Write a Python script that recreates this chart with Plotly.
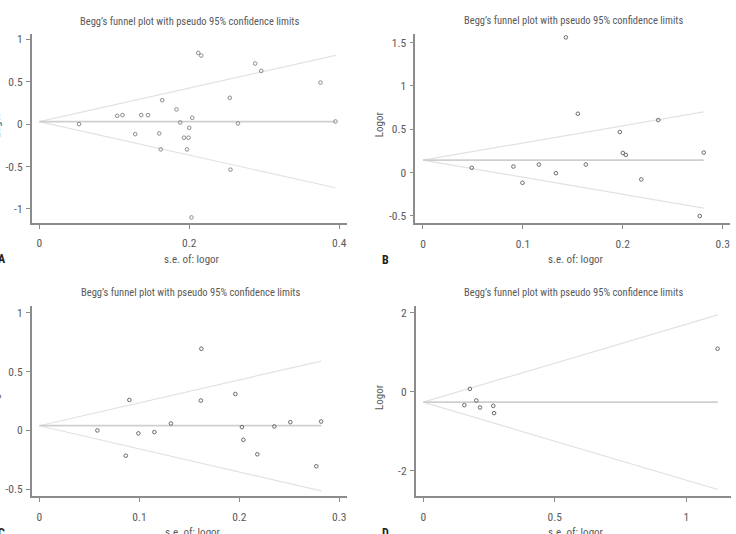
import plotly.graph_objects as go

W, H = 736, 534

# ---------------- data ----------------
a_se = [0.053, 0.104, 0.111, 0.128, 0.136, 0.145, 0.160, 0.162, 0.164, 0.183, 0.188,
        0.193, 0.197, 0.199, 0.200, 0.204, 0.203, 0.212, 0.216, 0.254, 0.255, 0.265,
        0.288, 0.296, 0.375, 0.395]
a_logor = [0.0, 0.098, 0.106, -0.118, 0.106, 0.106, -0.11, -0.298, 0.282, 0.173, 0.02,
           -0.16, -0.298, -0.16, -0.043, 0.075, -1.10, 0.839, 0.808, 0.31, -0.537, 0.008,
           0.714, 0.627, 0.49, 0.031]
a_lim_se = [0.0, 0.395]
a_center = [0.03, 0.03]
a_upper = [0.03, 0.81]
a_lower = [0.03, -0.75]

b_se = [0.0488, 0.0905, 0.0996, 0.116, 0.133, 0.143, 0.155, 0.163, 0.197, 0.200, 0.203,
        0.2185, 0.2355, 0.277, 0.281]
b_logor = [0.054, 0.069, -0.119, 0.092, -0.008, 1.559, 0.678, 0.092, 0.467, 0.226, 0.203,
           -0.080, 0.605, -0.502, 0.230]
b_lim_se = [0.0, 0.281]
b_center = [0.142, 0.142]
b_upper = [0.142, 0.70]
b_lower = [0.142, -0.41]

c_se = [0.058, 0.0864, 0.090, 0.099, 0.115, 0.1315, 0.1615, 0.162, 0.196, 0.2026, 0.204,
        0.218, 0.235, 0.251, 0.277, 0.2818]
c_logor = [0.0, -0.215, 0.259, -0.025, -0.014, 0.059, 0.254, 0.695, 0.31, 0.028, -0.08,
           -0.203, 0.034, 0.070, -0.305, 0.076]
c_lim_se = [0.0, 0.282]
c_center = [0.04, 0.04]
c_upper = [0.04, 0.59]
c_lower = [0.04, -0.514]

d_se = [0.156, 0.177, 0.2015, 0.2155, 0.266, 0.269, 1.119]
d_logor = [-0.336, 0.076, -0.218, -0.395, -0.353, -0.538, 1.092]
d_lim_se = [0.0, 1.12]
d_center = [-0.26, -0.26]
d_upper = [-0.26, 1.95]
d_lower = [-0.26, -2.47]

title_text = "Begg\u2019s funnel plot with pseudo 95% confidence limits"
xlabel = "s.e. of: logor"
ylabel = "Logor"
letters = ["A", "B", "C", "D"]

a_xticks = [0, 0.2, 0.4]
a_yticks = [-1, -0.5, 0, 0.5, 1]
b_xticks = [0, 0.1, 0.2, 0.3]
b_yticks = [-0.5, 0, 0.5, 1, 1.5]
c_xticks = [0, 0.1, 0.2, 0.3]
c_yticks = [-0.5, 0, 0.5, 1]
d_xticks = [0, 0.5, 1]
d_yticks = [-2, 0, 2]

# ---------------- layout geometry (pixels) ----------------
panels = [
    dict(se=a_se, y=a_logor, lx=a_lim_se, c=a_center, u=a_upper, l=a_lower,
         xt=a_xticks, yt=a_yticks, xr=[-0.0101, 0.41], yr=[-1.164, 1.06],
         px=(31.7, 346.7), py=(32.3, 221.7), filled=True),
    dict(se=b_se, y=b_logor, lx=b_lim_se, c=b_center, u=b_upper, l=b_lower,
         xt=b_xticks, yt=b_yticks, xr=[-0.0077, 0.307], yr=[-0.588, 1.603],
         px=(415.3, 729.7), py=(31.7, 222.3), filled=False),
    dict(se=c_se, y=c_logor, lx=c_lim_se, c=c_center, u=c_upper, l=c_lower,
         xt=c_xticks, yt=c_yticks, xr=[-0.0077, 0.308], yr=[-0.559, 1.062],
         px=(31.7, 347.3), py=(304.7, 496.0), filled=False),
    dict(se=d_se, y=d_logor, lx=d_lim_se, c=d_center, u=d_upper, l=d_lower,
         xt=d_xticks, yt=d_yticks, xr=[-0.029, 1.169], yr=[-2.639, 2.185],
         px=(415.7, 730.7), py=(304.7, 496.0), filled=False),
]

FONT = "Liberation Sans Narrow, Roboto Condensed, DejaVu Sans Condensed, Arial Narrow, sans-serif"
AXIS_C = "#8c8c8c"
TEXT_C = "#5a5a5a"

fig = go.Figure()
annotations = []

for i, p in enumerate(panels):
    n = "" if i == 0 else str(i + 1)
    xa, ya = "x" + n, "y" + n
    # funnel lines
    fig.add_trace(go.Scatter(x=p["lx"], y=p["u"], mode="lines", xaxis=xa, yaxis=ya,
                             line=dict(color="#e2e2e2", width=1.2), showlegend=False, hoverinfo="skip"))
    fig.add_trace(go.Scatter(x=p["lx"], y=p["l"], mode="lines", xaxis=xa, yaxis=ya,
                             line=dict(color="#e2e2e2", width=1.2), showlegend=False, hoverinfo="skip"))
    fig.add_trace(go.Scatter(x=p["lx"], y=p["c"], mode="lines", xaxis=xa, yaxis=ya,
                             line=dict(color="#cfcfcf", width=1.8), showlegend=False, hoverinfo="skip"))
    # studies
    fig.add_trace(go.Scatter(x=p["se"], y=p["y"], mode="markers", xaxis=xa, yaxis=ya,
                             marker=dict(symbol="circle-open", size=3.6,
                                         color="#8a8a8a" if p["filled"] else "#6a6a6a",
                                         line=dict(width=1)),
                             showlegend=False))

    x0, x1 = p["px"]
    y0, y1 = p["py"]
    axcommon = dict(showgrid=False, zeroline=False, showline=True, linecolor=AXIS_C, linewidth=1.5,
                    ticks="outside", ticklen=4, tickcolor=AXIS_C, tickwidth=1,
                    tickfont=dict(family=FONT, size=11.5, color=TEXT_C), fixedrange=True)
    fig.update_layout(**{
        ("xaxis" + n): dict(domain=[x0 / W, x1 / W], range=p["xr"], anchor=ya,
                            tickvals=p["xt"], ticktext=[f"{v:g}" for v in p["xt"]],
                            ticklabelstandoff=5, **axcommon),
        ("yaxis" + n): dict(domain=[1 - y1 / H, 1 - y0 / H], range=p["yr"], anchor=xa,
                            tickvals=p["yt"], ticktext=[f"{v:g}" for v in p["yt"]],
                            ticklabelstandoff=1, **axcommon),
    })

    cx = (x0 + x1) / 2
    # title
    annotations.append(dict(text=title_text, x=(cx + 0.5) / W, y=1 - (y0 - 13) / H,
                            xref="paper", yref="paper", xanchor="center", yanchor="middle",
                            showarrow=False, font=dict(family=FONT, size=10.5, color=TEXT_C)))
    # x label
    annotations.append(dict(text=xlabel, x=(cx + 3) / W, y=1 - (y1 + 36.5) / H,
                            xref="paper", yref="paper", xanchor="center", yanchor="middle",
                            showarrow=False, font=dict(family=FONT, size=11, color=TEXT_C)))
    # y label
    annotations.append(dict(text=ylabel, x=(x0 - 35.6) / W, y=1 - ((y0 + y1) / 2 - 4) / H,
                            xref="paper", yref="paper", xanchor="center", yanchor="middle",
                            textangle=-90, showarrow=False,
                            font=dict(family=FONT, size=11, color=TEXT_C)))
    # panel letter
    annotations.append(dict(text="<b>" + letters[i] + "</b>", x=(x0 - 35.6) / W, y=1 - (y1 + 36.5) / H,
                            xref="paper", yref="paper", xanchor="left", yanchor="middle",
                            showarrow=False, font=dict(family=FONT, size=12, color="#222222")))

fig.update_layout(width=W, height=H, margin=dict(l=0, r=0, t=0, b=0),
                  paper_bgcolor="white", plot_bgcolor="white",
                  annotations=annotations, showlegend=False)

fig.write_html("out.html")
